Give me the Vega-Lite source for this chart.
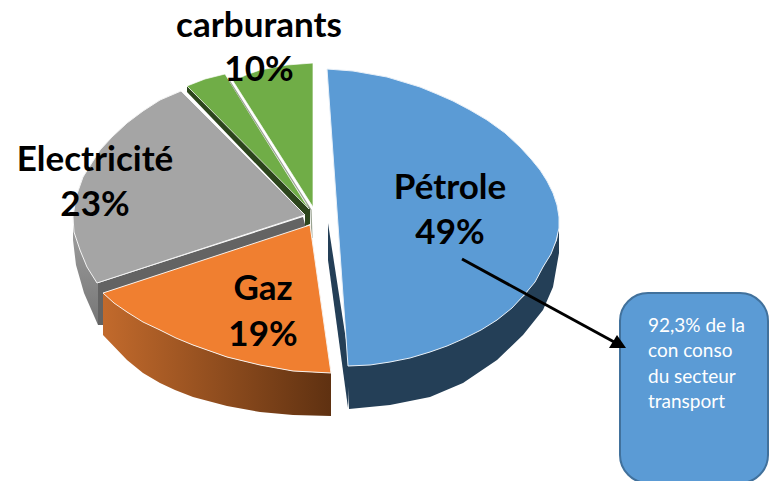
{"$schema":"https://vega.github.io/schema/vega-lite/v6.json","width":769,"height":481,"padding":0,"autosize":"none","background":"white","config":{"view":{"stroke":null}},
"datasets":{
"shapes":[
{"s":"gl","i":0,"x":73,"y":220},{"s":"gl","i":1,"x":73,"y":240},{"s":"gl","i":2,"x":76,"y":265},{"s":"gl","i":3,"x":84,"y":293},{"s":"gl","i":4,"x":98,"y":325},{"s":"gl","i":5,"x":99,"y":280},{"s":"gl","i":6,"x":85,"y":260},
{"s":"gf","i":0,"x":98,"y":283},{"s":"gf","i":1,"x":303,"y":217},{"s":"gf","i":2,"x":306,"y":228},{"s":"gf","i":3,"x":103,"y":293},{"s":"gf","i":4,"x":103,"y":325},{"s":"gf","i":5,"x":98,"y":325},
{"s":"dg","i":0,"x":187,"y":86},{"s":"dg","i":1,"x":187,"y":92},{"s":"dg","i":2,"x":305,"y":215},{"s":"dg","i":3,"x":305,"y":226},{"s":"dg","i":4,"x":310,"y":224},{"s":"dg","i":5,"x":310,"y":208},
{"s":"g1","i":0,"x":187,"y":86},{"s":"g1","i":1,"x":205,"y":79},{"s":"g1","i":2,"x":225,"y":74},{"s":"g1","i":3,"x":309,"y":209},{"s":"g1","i":4,"x":187,"y":86},
{"s":"g2","i":0,"x":233,"y":81},{"s":"g2","i":1,"x":246,"y":75},{"s":"g2","i":2,"x":260,"y":70},{"s":"g2","i":3,"x":287,"y":65},{"s":"g2","i":4,"x":313,"y":63},{"s":"g2","i":5,"x":313,"y":207},{"s":"g2","i":6,"x":233,"y":81},
{"s":"ge","i":0,"x":229,"y":80},{"s":"ge","i":1,"x":311,"y":210},{"s":"ge","i":2,"x":312,"y":238},
{"s":"ow","i":0,"x":103,"y":293},{"s":"ow","i":1,"x":127,"y":312},{"s":"ow","i":2,"x":160,"y":330},{"s":"ow","i":3,"x":193,"y":345},{"s":"ow","i":4,"x":227,"y":357},{"s":"ow","i":5,"x":260,"y":365},{"s":"ow","i":6,"x":293,"y":371},{"s":"ow","i":7,"x":331,"y":373},{"s":"ow","i":8,"x":331,"y":416},{"s":"ow","i":9,"x":293,"y":415},{"s":"ow","i":10,"x":260,"y":412},{"s":"ow","i":11,"x":227,"y":406},{"s":"ow","i":12,"x":193,"y":397},{"s":"ow","i":13,"x":175,"y":390},{"s":"ow","i":14,"x":160,"y":383},{"s":"ow","i":15,"x":143,"y":373},{"s":"ow","i":16,"x":127,"y":360},{"s":"ow","i":17,"x":103,"y":335},
{"s":"ot","i":0,"x":310,"y":225},{"s":"ot","i":1,"x":331,"y":373},{"s":"ot","i":2,"x":293,"y":371},{"s":"ot","i":3,"x":260,"y":365},{"s":"ot","i":4,"x":227,"y":357},{"s":"ot","i":5,"x":193,"y":345},{"s":"ot","i":6,"x":176,"y":338},{"s":"ot","i":7,"x":160,"y":330},{"s":"ot","i":8,"x":143,"y":322},{"s":"ot","i":9,"x":127,"y":312},{"s":"ot","i":10,"x":114,"y":303},{"s":"ot","i":11,"x":103,"y":293},{"s":"ot","i":12,"x":310,"y":225},
{"s":"gt","i":0,"x":305,"y":215},{"s":"gt","i":1,"x":181,"y":91},{"s":"gt","i":2,"x":160,"y":100},{"s":"gt","i":3,"x":143,"y":111},{"s":"gt","i":4,"x":127,"y":123},{"s":"gt","i":5,"x":112,"y":137},{"s":"gt","i":6,"x":100,"y":150},{"s":"gt","i":7,"x":83,"y":177},{"s":"gt","i":8,"x":76,"y":197},{"s":"gt","i":9,"x":73,"y":217},{"s":"gt","i":10,"x":74,"y":232},{"s":"gt","i":11,"x":80,"y":250},{"s":"gt","i":12,"x":87,"y":267},{"s":"gt","i":13,"x":97,"y":283},{"s":"gt","i":14,"x":305,"y":215},
{"s":"bs","i":0,"x":328,"y":223},{"s":"bs","i":1,"x":328,"y":260},{"s":"bs","i":2,"x":348,"y":408},{"s":"bs","i":3,"x":350,"y":366},
{"s":"bw","i":0,"x":559,"y":225},{"s":"bw","i":1,"x":557,"y":240},{"s":"bw","i":2,"x":543,"y":267},{"s":"bw","i":3,"x":525,"y":295},{"s":"bw","i":4,"x":497,"y":320},{"s":"bw","i":5,"x":463,"y":338},{"s":"bw","i":6,"x":430,"y":352},{"s":"bw","i":7,"x":390,"y":362},{"s":"bw","i":8,"x":348,"y":366},{"s":"bw","i":9,"x":349,"y":409},{"s":"bw","i":10,"x":390,"y":405},{"s":"bw","i":11,"x":430,"y":397},{"s":"bw","i":12,"x":463,"y":383},{"s":"bw","i":13,"x":497,"y":360},{"s":"bw","i":14,"x":523,"y":335},{"s":"bw","i":15,"x":543,"y":310},{"s":"bw","i":16,"x":553,"y":287},{"s":"bw","i":17,"x":559,"y":253},
{"s":"bt","i":0,"x":327,"y":69},{"s":"bt","i":1,"x":353,"y":71},{"s":"bt","i":2,"x":387,"y":77},{"s":"bt","i":3,"x":420,"y":87},{"s":"bt","i":4,"x":437,"y":94},{"s":"bt","i":5,"x":453,"y":101},{"s":"bt","i":6,"x":470,"y":110},{"s":"bt","i":7,"x":487,"y":120},{"s":"bt","i":8,"x":505,"y":133},{"s":"bt","i":9,"x":520,"y":147},{"s":"bt","i":10,"x":531,"y":159},{"s":"bt","i":11,"x":540,"y":170},{"s":"bt","i":12,"x":547,"y":181},{"s":"bt","i":13,"x":553,"y":193},{"s":"bt","i":14,"x":557,"y":205},{"s":"bt","i":15,"x":559,"y":217},{"s":"bt","i":16,"x":559,"y":228},{"s":"bt","i":17,"x":556,"y":241},{"s":"bt","i":18,"x":551,"y":254},{"s":"bt","i":19,"x":543,"y":267},{"s":"bt","i":20,"x":535,"y":282},{"s":"bt","i":21,"x":525,"y":294},{"s":"bt","i":22,"x":512,"y":308},{"s":"bt","i":23,"x":497,"y":320},{"s":"bt","i":24,"x":481,"y":330},{"s":"bt","i":25,"x":463,"y":339},{"s":"bt","i":26,"x":447,"y":346},{"s":"bt","i":27,"x":430,"y":352},{"s":"bt","i":28,"x":410,"y":358},{"s":"bt","i":29,"x":390,"y":362},{"s":"bt","i":30,"x":370,"y":365},{"s":"bt","i":31,"x":348,"y":366},{"s":"bt","i":32,"x":327,"y":69},
{"s":"al","i":0,"x":462,"y":259},{"s":"al","i":1,"x":616,"y":343},
{"s":"ah","i":0,"x":626,"y":348},{"s":"ah","i":1,"x":609,"y":348},{"s":"ah","i":2,"x":617,"y":335}
],
"labels":[
{"t":"Pétrole","x":450,"y":188},{"t":"49%","x":450,"y":233},{"t":"Gaz","x":263,"y":289},{"t":"19%","x":263,"y":335},{"t":"Electricité","x":95,"y":160},{"t":"23%","x":95,"y":205},{"t":"carburants","x":259,"y":26},{"t":"10%","x":259,"y":70}
],
"notes":[{"t":"92,3% de la","x":648,"y":326},{"t":"con conso","x":648,"y":351},{"t":"du secteur","x":648,"y":377},{"t":"transport","x":648,"y":402}],
"box":[{"x":620,"x2":768,"y":293,"y2":483}]
},
"encoding":{"x":{"field":"x","type":"quantitative","scale":{"domain":[0,769],"nice":false,"zero":false},"axis":null},"y":{"field":"y","type":"quantitative","scale":{"domain":[481,0],"nice":false,"zero":false},"axis":null}},
"layer":[
{"data":{"name":"shapes"},"transform":[{"filter":"datum.s=='gl'"}],"mark":{"type":"line","stroke":null,"fill":{"x1":0,"y1":0,"x2":0,"y2":1,"gradient":"linear","stops":[{"offset":0,"color":"#a0a0a0"},{"offset":1,"color":"#767676"}]}},"encoding":{"order":{"field":"i","type":"quantitative"}}},
{"data":{"name":"shapes"},"transform":[{"filter":"datum.s=='gf'"}],"mark":{"type":"line","stroke":null,"fill":"#636363"},"encoding":{"order":{"field":"i","type":"quantitative"}}},
{"data":{"name":"shapes"},"transform":[{"filter":"datum.s=='dg'"}],"mark":{"type":"line","stroke":null,"fill":"#2c451c"},"encoding":{"order":{"field":"i","type":"quantitative"}}},
{"data":{"name":"shapes"},"transform":[{"filter":"datum.s=='g1'"}],"mark":{"type":"line","stroke":"#ffffff","strokeWidth":0.7,"fill":"#70ad47"},"encoding":{"order":{"field":"i","type":"quantitative"}}},
{"data":{"name":"shapes"},"transform":[{"filter":"datum.s=='ge'"}],"mark":{"type":"line","stroke":"#9aa392","strokeWidth":1.2},"encoding":{"order":{"field":"i","type":"quantitative"}}},
{"data":{"name":"shapes"},"transform":[{"filter":"datum.s=='g2'"}],"mark":{"type":"line","stroke":"#ffffff","strokeWidth":0.7,"fill":"#70ad47"},"encoding":{"order":{"field":"i","type":"quantitative"}}},
{"data":{"name":"shapes"},"transform":[{"filter":"datum.s=='ow'"}],"mark":{"type":"line","stroke":null,"fill":{"x1":0,"y1":0,"x2":1,"y2":0,"gradient":"linear","stops":[{"offset":0,"color":"#c26a2c"},{"offset":1,"color":"#5f3111"}]}},"encoding":{"order":{"field":"i","type":"quantitative"}}},
{"data":{"name":"shapes"},"transform":[{"filter":"datum.s=='ot'"}],"mark":{"type":"line","stroke":"#f8f0ea","strokeWidth":1,"fill":"#f07f30"},"encoding":{"order":{"field":"i","type":"quantitative"}}},
{"data":{"name":"shapes"},"transform":[{"filter":"datum.s=='gt'"}],"mark":{"type":"line","stroke":"#f4f4f4","strokeWidth":1,"fill":"#a5a5a5"},"encoding":{"order":{"field":"i","type":"quantitative"}}},
{"data":{"name":"shapes"},"transform":[{"filter":"datum.s=='bs'"}],"mark":{"type":"line","stroke":null,"fill":"#243f57"},"encoding":{"order":{"field":"i","type":"quantitative"}}},
{"data":{"name":"shapes"},"transform":[{"filter":"datum.s=='bw'"}],"mark":{"type":"line","stroke":null,"fill":"#243f57"},"encoding":{"order":{"field":"i","type":"quantitative"}}},
{"data":{"name":"shapes"},"transform":[{"filter":"datum.s=='bt'"}],"mark":{"type":"line","stroke":"#e8f0f8","strokeWidth":1,"fill":"#5b9bd5"},"encoding":{"order":{"field":"i","type":"quantitative"}}},
{"data":{"name":"box"},"mark":{"type":"rect","fill":"#5b9bd5","stroke":"#41719c","strokeWidth":2,"cornerRadius":28,"clip":true},"encoding":{"x2":{"field":"x2"},"y2":{"field":"y2"}}},
{"data":{"name":"shapes"},"transform":[{"filter":"datum.s=='al'"}],"mark":{"type":"line","stroke":"#000000","strokeWidth":3},"encoding":{"order":{"field":"i","type":"quantitative"}}},
{"data":{"name":"shapes"},"transform":[{"filter":"datum.s=='ah'"}],"mark":{"type":"line","stroke":null,"fill":"#000000"},"encoding":{"order":{"field":"i","type":"quantitative"}}},
{"data":{"name":"labels"},"mark":{"type":"text","font":"Lato","fontWeight":"bold","fontSize":35,"color":"#000000","align":"center","baseline":"middle"},"encoding":{"text":{"field":"t"}}},
{"data":{"name":"notes"},"mark":{"type":"text","font":"Lato","fontSize":19,"color":"#ffffff","align":"left","baseline":"middle"},"encoding":{"text":{"field":"t"}}}
]}
